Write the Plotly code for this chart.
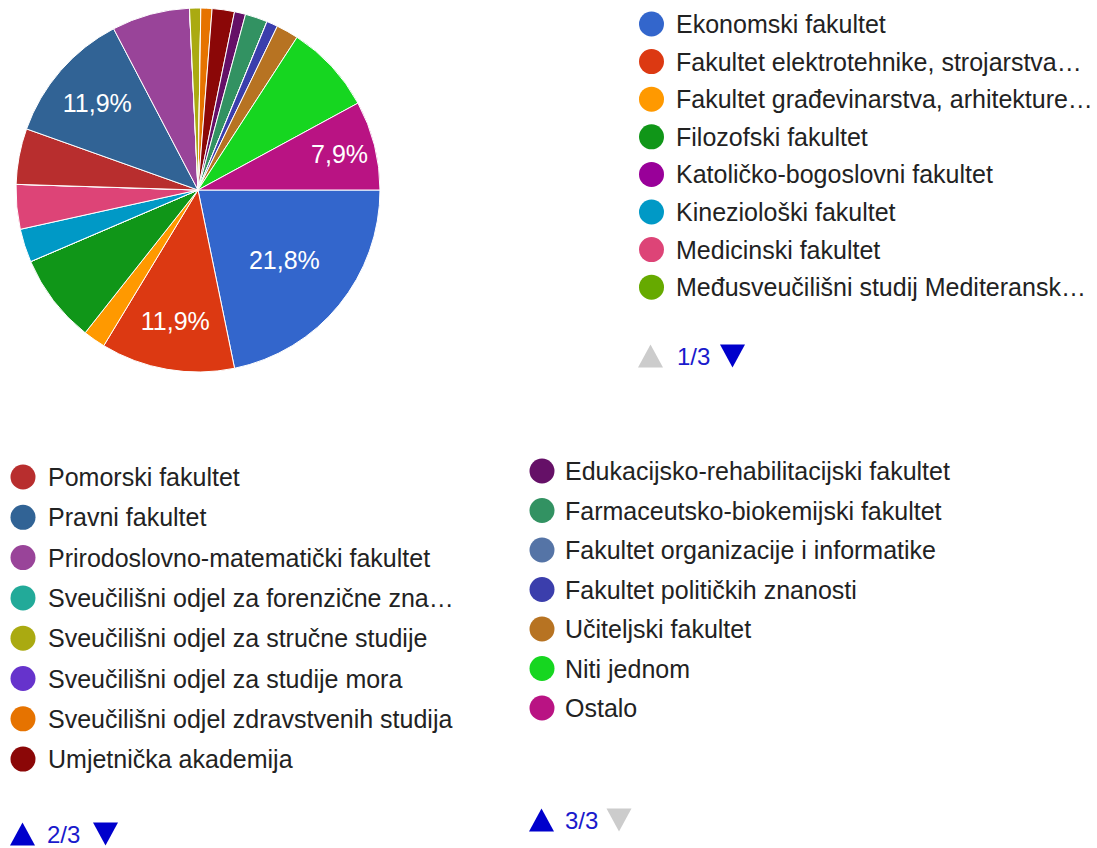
import plotly.graph_objects as go

# answers (N = 101), in the order Google Charts drew them
faculties = [
    "Ekonomski fakultet",
    "Fakultet elektrotehnike, strojarstva i brodogradnje",
    "Fakultet građevinarstva, arhitekture i geodezije",
    "Filozofski fakultet",
    "Katoličko-bogoslovni fakultet",
    "Kineziološki fakultet",
    "Medicinski fakultet",
    "Međusveučilišni studij Mediteranska poljoprivreda",
    "Pomorski fakultet",
    "Pravni fakultet",
    "Prirodoslovno-matematički fakultet",
    "Sveučilišni odjel za forenzične znanosti",
    "Sveučilišni odjel za stručne studije",
    "Sveučilišni odjel za studije mora",
    "Sveučilišni odjel zdravstvenih studija",
    "Umjetnička akademija",
    "Edukacijsko-rehabilitacijski fakultet",
    "Farmaceutsko-biokemijski fakultet",
    "Fakultet organizacije i informatike",
    "Fakultet političkih znanosti",
    "Učiteljski fakultet",
    "Niti jednom",
    "Ostalo",
]
counts = [22, 12, 2, 8, 0, 3, 4, 0, 5, 12, 7, 0, 1, 0, 1, 2, 1, 2, 0, 1, 2, 8, 8]

# legend entries as they appear (truncated by the legend)
legend_labels = [
    "Ekonomski fakultet",
    "Fakultet elektrotehnike, strojarstva…",
    "Fakultet građevinarstva, arhitekture…",
    "Filozofski fakultet",
    "Katoličko-bogoslovni fakultet",
    "Kineziološki fakultet",
    "Medicinski fakultet",
    "Međusveučilišni studij Mediteransk…",
    "Pomorski fakultet",
    "Pravni fakultet",
    "Prirodoslovno-matematički fakultet",
    "Sveučilišni odjel za forenzične zna…",
    "Sveučilišni odjel za stručne studije",
    "Sveučilišni odjel za studije mora",
    "Sveučilišni odjel zdravstvenih studija",
    "Umjetnička akademija",
    "Edukacijsko-rehabilitacijski fakultet",
    "Farmaceutsko-biokemijski fakultet",
    "Fakultet organizacije i informatike",
    "Fakultet političkih znanosti",
    "Učiteljski fakultet",
    "Niti jednom",
    "Ostalo",
]

colors = [
    "#3366cc", "#dc3912", "#ff9900", "#109618", "#990099", "#0099c6",
    "#dd4477", "#66aa00", "#b82e2e", "#316395", "#994499", "#22aa99",
    "#aaaa11", "#6633cc", "#e67300", "#8b0707", "#651067", "#329262",
    "#5574a6", "#3b3eac", "#b77322", "#16d620", "#b91383",
]

labelled = {"Ekonomski fakultet", "Fakultet elektrotehnike, strojarstva i brodogradnje",
            "Pravni fakultet", "Ostalo"}

W, H = 1097, 848
FONT = "Arial, Liberation Sans, sans-serif"

total = sum(counts)
slice_text = [
    (f"{c / total * 100:.1f}%".replace(".", ",") if f in labelled else "")
    for f, c in zip(faculties, counts)
]

fig = go.Figure()

# pie: centre ~(198,190) px, radius ~182 px
cx, cy, r = 198, 190, 182
fig.add_trace(go.Pie(
    labels=faculties,
    values=counts,
    sort=False,
    direction="clockwise",
    rotation=90,
    marker=dict(colors=colors, line=dict(color="white", width=1)),
    text=slice_text,
    textinfo="text",
    textposition="inside",
    insidetextorientation="horizontal",
    textfont=dict(family=FONT, size=25, color="white"),
    domain=dict(x=[(cx - r) / W, (cx + r) / W], y=[(H - cy - r) / H, (H - cy + r) / H]),
    showlegend=False,
    hoverinfo="label+percent",
))

# three legend pages, as in the screenshot
pages = [
    # first, last, circle x, text x, first row y, row step, pager y, up x, "n/3" x, down x
    dict(i0=0, i1=8, mx=651.5, tx=674, y0=24, dy=37.6, py=356, ux=650.5, nx=675, dx=732.5),
    dict(i0=8, i1=16, mx=23, tx=45.5, y0=477, dy=40.3, py=834, ux=22.5, nx=44.5, dx=105.5),
    dict(i0=16, i1=23, mx=542, tx=563, y0=471, dy=39.5, py=820, ux=541.5, nx=563, dx=619),
]
n_pages = len(pages)
shapes = []
annotations = []
for p_no, p in enumerate(pages, start=1):
    idx = list(range(p["i0"], p["i1"]))
    ys = [p["y0"] + k * p["dy"] for k in range(len(idx))]
    fig.add_trace(go.Scatter(
        x=[p["mx"]] * len(idx), y=ys, mode="markers",
        marker=dict(size=25, color=[colors[i] for i in idx], line=dict(width=0)),
        showlegend=False, hoverinfo="skip", xaxis="x", yaxis="y",
    ))
    for i, yy in zip(idx, ys):
        annotations.append(dict(
            x=p["tx"], y=yy, xref="x", yref="y", text=legend_labels[i],
            showarrow=False, xanchor="left", yanchor="middle",
            font=dict(family=FONT, size=25, color="#222222"),
        ))
    # pager: up triangle, page number, down triangle
    up_col = "#cccccc" if p_no == 1 else "#0000cc"
    dn_col = "#cccccc" if p_no == n_pages else "#0000cc"
    ux, dx, py = p["ux"], p["dx"], p["py"]
    shapes.append(dict(type="path", xref="x", yref="y", line=dict(width=0), fillcolor=up_col,
                       path=f"M{ux - 12.5},{py + 11.5} L{ux + 12.5},{py + 11.5} L{ux},{py - 11.5} Z"))
    shapes.append(dict(type="path", xref="x", yref="y", line=dict(width=0), fillcolor=dn_col,
                       path=f"M{dx - 12.5},{py - 11.5} L{dx + 12.5},{py - 11.5} L{dx},{py + 11.5} Z"))
    annotations.append(dict(
        x=p["nx"], y=py, xref="x", yref="y", text=f"{p_no}/{n_pages}",
        showarrow=False, xanchor="left", yanchor="middle",
        font=dict(family=FONT, size=24, color="#1a1acc"),
    ))

fig.update_layout(
    width=W, height=H,
    margin=dict(l=0, r=0, t=0, b=0),
    paper_bgcolor="white", plot_bgcolor="rgba(0,0,0,0)",
    xaxis=dict(range=[0, W], visible=False, fixedrange=True, domain=[0, 1]),
    yaxis=dict(range=[H, 0], visible=False, fixedrange=True, domain=[0, 1]),
    shapes=shapes,
    annotations=annotations,
    font=dict(family=FONT),
)

fig.write_html("out.html", config={"displayModeBar": False},
               post_script="document.body.style.margin='0';")
